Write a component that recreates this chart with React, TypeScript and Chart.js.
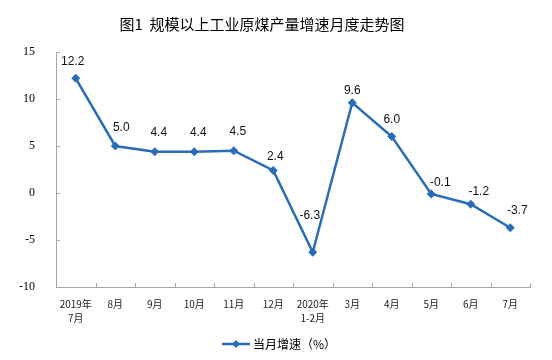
import React, { useEffect, useRef } from "react";
import { Chart, registerables } from "chart.js";

Chart.register(...registerables);

const categories: (string | string[])[] = [
  ["2019年", "7月"], "8月", "9月", "10月", "11月", "12月",
  ["2020年", "1-2月"], "3月", "4月", "5月", "6月", "7月",
];
const growth = [12.2, 5.0, 4.4, 4.4, 4.5, 2.4, -6.3, 9.6, 6.0, -0.1, -1.2, -3.7];
const yMin = -10;
const yMax = 15;
const yStep = 5;
const titleText = "图1  规模以上工业原煤产量增速月度走势图";
const seriesName = "当月增速（%）";
// label nudges (dx, dy) relative to each point
const labelDx = [-3, 6, 4, 4, 4, 2, -3, 0, 0, 9, 8, 7];
const labelDy = [-17, -18, -19, -19, -19, -14, -37, -12, -17, -11, -13, -17];

const LINE_COLOR = "#2A6CBA";
const CJK = '"Noto Sans CJK SC", "Noto Sans", sans-serif';

function drawDiamond(ctx: CanvasRenderingContext2D, x: number, y: number, r: number) {
  ctx.beginPath();
  ctx.moveTo(x, y - r);
  ctx.lineTo(x + r, y);
  ctx.lineTo(x, y + r);
  ctx.lineTo(x - r, y);
  ctx.closePath();
  ctx.fill();
}

const decorPlugin = {
  id: "decor",
  afterDraw(chart: any) {
    const ctx: CanvasRenderingContext2D = chart.ctx;
    const xs = chart.scales.x;
    const ys = chart.scales.y;
    ctx.save();
    // inward tick marks
    ctx.strokeStyle = "#A6A6A6";
    ctx.lineWidth = 1;
    const n = categories.length;
    const w = (xs.right - xs.left) / n;
    for (let i = 1; i <= n; i++) {
      const x = Math.round(xs.left + i * w) + 0.5;
      ctx.beginPath();
      ctx.moveTo(x, ys.bottom);
      ctx.lineTo(x, ys.bottom - 4);
      ctx.stroke();
    }
    for (let v = yMin + yStep; v <= yMax; v += yStep) {
      const y = Math.round(ys.getPixelForValue(v)) + 0.5;
      ctx.beginPath();
      ctx.moveTo(xs.left, y);
      ctx.lineTo(xs.left + 4, y);
      ctx.stroke();
    }
    // data labels
    const meta = chart.getDatasetMeta(0);
    ctx.fillStyle = "#111";
    ctx.font = '12px "Liberation Sans", Arial, sans-serif';
    ctx.textAlign = "center";
    ctx.textBaseline = "middle";
    meta.data.forEach((pt: any, i: number) => {
      ctx.fillText(growth[i].toFixed(1), pt.x + labelDx[i], pt.y + labelDy[i]);
    });
    // title
    ctx.font = `15px ${CJK}`;
    ctx.fillStyle = "#000";
    ctx.fillText(titleText, 262, 24);
    // legend
    const ly = 344;
    ctx.strokeStyle = LINE_COLOR;
    ctx.lineWidth = 2.5;
    ctx.beginPath();
    ctx.moveTo(222, ly);
    ctx.lineTo(250, ly);
    ctx.stroke();
    ctx.fillStyle = LINE_COLOR;
    drawDiamond(ctx, 236, ly, 4);
    ctx.fillStyle = "#000";
    ctx.font = `12px ${CJK}`;
    ctx.textAlign = "left";
    ctx.fillText(seriesName, 253, ly);
    ctx.restore();
  },
};

export default function App() {
  const ref = useRef<HTMLCanvasElement | null>(null);
  useEffect(() => {
    if (!ref.current) return;
    const chart = new Chart(ref.current, {
      type: "line",
      data: {
        labels: categories as any,
        datasets: [
          {
            label: seriesName,
            data: growth,
            borderColor: LINE_COLOR,
            backgroundColor: LINE_COLOR,
            borderWidth: 2.5,
            pointStyle: "rectRot",
            pointRadius: 4.5,
            pointBorderWidth: 0,
            tension: 0,
          },
        ],
      },
      options: {
        animation: false,
        responsive: false,
        layout: { padding: { top: 52, bottom: 18, left: 0, right: 22 } },
        plugins: {
          legend: { display: false },
          title: { display: false },
          tooltip: { enabled: false },
        },
        scales: {
          x: {
            offset: true,
            grid: { display: false },
            border: { display: true, color: "#A6A6A6", width: 1 },
            ticks: {
              color: "#222",
              padding: 2,
              maxRotation: 0,
              autoSkip: false,
              font: { family: CJK, size: 10, lineHeight: 1.4 },
            },
            afterFit: (s: any) => {
              s.height = 55;
            },
          },
          y: {
            min: yMin,
            max: yMax,
            grid: { display: false },
            border: { display: true, color: "#A6A6A6", width: 1 },
            ticks: {
              stepSize: yStep,
              color: "#000",
              padding: 13,
              font: { family: '"Liberation Serif", "Times New Roman", serif', size: 12 },
            },
            afterFit: (s: any) => {
              s.width = 56;
            },
          },
        },
      },
      plugins: [decorPlugin],
    });
    return () => chart.destroy();
  }, []);
  return (
    <div style={{ position: "fixed", left: 0, top: 0, width: 552, height: 360, background: "#fff" }}>
      <canvas ref={ref} width={552} height={360} />
    </div>
  );
}
